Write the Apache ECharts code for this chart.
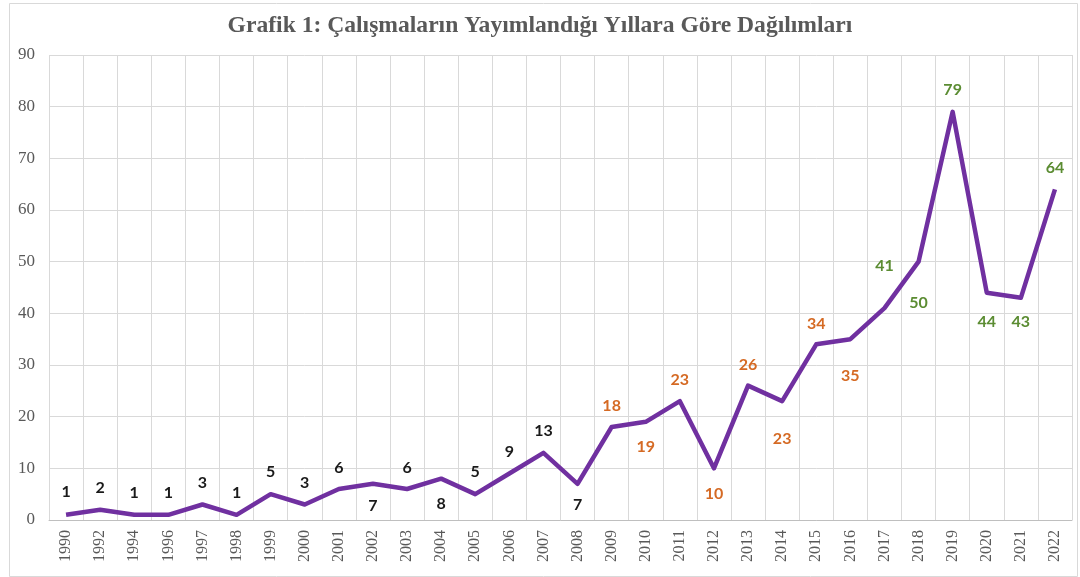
<!DOCTYPE html>
<html>
<head>
<meta charset="utf-8">
<script src="https://cdn.jsdelivr.net/npm/echarts@6/dist/echarts.min.js"></script>
<style>
  html, body { margin: 0; padding: 0; background: #fff; }
  #chart { width: 1080px; height: 577px; }
</style>
</head>
<body>
<div id="chart"></div>
<script>
const years = ['1990', '1992', '1994', '1996', '1997', '1998', '1999', '2000', '2001', '2002',
  '2003', '2004', '2005', '2006', '2007', '2008', '2009', '2010', '2011', '2012',
  '2013', '2014', '2015', '2016', '2017', '2018', '2019', '2020', '2021', '2022']
const counts = [1, 2, 1, 1, 3, 1, 5, 3, 6, 7, 6, 8, 5, 9, 13, 7, 18, 19, 23, 10,
  26, 23, 34, 35, 41, 50, 79, 44, 43, 64]
const yTicks = [0, 10, 20, 30, 40, 50, 60, 70, 80, 90]

// label placement: distance of label centre from the point, + above / - below
const labelShift = [22, 21, 21, 21, 21, 21, 22, 21, 21, -22, 21, -25, 22, 21, 21, -21, 21, -25, 21, -25,
  20, -37, 20, -36, 42, -41, 21, -29, -24, 21]

const labelColor = i => {
  const y = +years[i]
  if (y <= 2008) return '#1a1a1a'
  if (y <= 2016) return '#d56a24'
  return '#5b8c32'
}

const chart = echarts.init(document.getElementById('chart'))
chart.setOption({
  animation: false,
  title: {
    text: 'Grafik 1: Çalışmaların Yayımlandığı Yıllara Göre Dağılımları',
    left: 'center', top: 9,
    textStyle: { fontFamily: 'Liberation Serif', fontWeight: 'bold', fontSize: 23.6, color: '#595959' }
  },
  graphic: [{
    type: 'rect', left: 7, top: 1,
    shape: { width: 1068, height: 573 },
    style: { fill: 'none', stroke: '#d9d9d9', lineWidth: 1 }
  }],
  grid: { left: 49, right: 8, top: 55, bottom: 57 },
  xAxis: {
    type: 'category',
    data: years,
    boundaryGap: true,
    axisLine: { lineStyle: { color: '#bfbfbf', width: 1 } },
    axisTick: { show: false },
    splitLine: { show: true, lineStyle: { color: '#d9d9d9', width: 1 } },
    axisLabel: { rotate: 90, margin: 10, fontFamily: 'Liberation Serif', fontSize: 16, color: '#595959', interval: 0 }
  },
  yAxis: {
    type: 'value',
    min: yTicks[0], max: yTicks[yTicks.length - 1], interval: yTicks[1] - yTicks[0],
    axisLine: { show: false },
    axisTick: { show: false },
    splitLine: { lineStyle: { color: '#d9d9d9', width: 1 } },
    axisLabel: { margin: 14, fontFamily: 'Liberation Serif', fontSize: 17, color: '#595959' }
  },
  series: [{
    type: 'line',
    data: counts.map((v, i) => ({
      value: v,
      label: {
        show: true,
        position: labelShift[i] > 0 ? 'top' : 'bottom',
        distance: Math.abs(labelShift[i]) - 8,
        color: labelColor(i)
      }
    })),
    symbol: 'circle',
    symbolSize: 1,
    showSymbol: true,
    itemStyle: { color: 'rgba(0,0,0,0)', borderWidth: 0 },
    lineStyle: { color: '#7030a0', width: 4.5, join: 'round' },
    label: { show: true, fontFamily: 'Lato', fontSize: 16, lineHeight: 16, fontWeight: 'bold', opacity: 1 }
  }]
})
</script>
</body>
</html>
